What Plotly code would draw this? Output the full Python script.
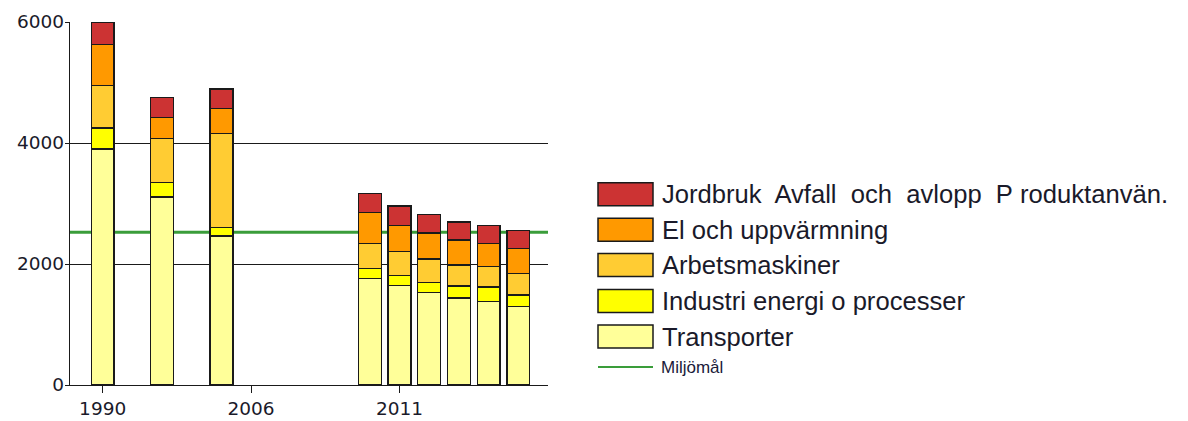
import plotly.graph_objects as go

# ---- data ----
years = ["1990", "2000", "2005", "2010", "2011", "2012", "2013", "2014", "2015"]
axis_slots = ["1990", "1995", "2000", "2004", "2005", "2006", "2007", "2008", "2009",
              "2010", "2011", "2012", "2013", "2014", "2015"]
tick_years = ["1990", "2006", "2011"]

transporter = [3900, 3107, 2463, 1758, 1647, 1532, 1438, 1377, 1295]
industri = [350, 237, 137, 170, 160, 159, 198, 243, 193]
arbetsmaskiner = [700, 733, 1560, 414, 397, 392, 347, 336, 352]
el_uppvarmning = [680, 347, 407, 507, 430, 429, 414, 380, 413]
jordbruk = [365, 325, 326, 319, 325, 309, 297, 298, 298]
miljomal = 2525

series_names = ["Transporter", "Industri energi o processer", "Arbetsmaskiner",
                "El och uppvärmning",
                "Jordbruk\u00a0 Avfall\u00a0 och\u00a0 avlopp\u00a0 P\u00a0roduktanvän."]
series_values = [transporter, industri, arbetsmaskiner, el_uppvarmning, jordbruk]
series_colors = ["#FFFF99", "#FFFF00", "#FFCC33", "#FF9900", "#CC3333"]
goal_name = "Miljömål"
goal_color = "#3a9d3a"

# ---- layout geometry (pixels) ----
# the page body has an 8px margin, so the figure starts at (8, 8) in the window
OFF = 8
W, H = 1172, 413
ML, MT = 70 - OFF, 22 - OFF
PW, PH = 478, 363
MR = W - ML - PW
MB = H - MT - PH


def px_x(px):
    return (px - OFF - ML) / PW


def px_y(py):
    return (MT + PH - (py - OFF)) / PH


fig = go.Figure()
for name, vals, col in zip(series_names, series_values, series_colors):
    fig.add_trace(go.Bar(
        x=years, y=vals, name=name, width=0.77,
        marker=dict(color=col, line=dict(color="#1a1a1a", width=1.3)),
        showlegend=False,
    ))

shapes = [dict(type="line", xref="paper", yref="y", x0=0, x1=1,
               y0=miljomal, y1=miljomal, layer="below",
               line=dict(color=goal_color, width=3))]
annotations = []

text_font = dict(family="Liberation Sans, Arial, sans-serif", size=25.6, color="#1a1a2a")
row_centers = [336.5, 301, 265, 229.8, 194.3]  # bottom-to-top order of series
for name, col, cy in zip(series_names, series_colors, row_centers):
    shapes.append(dict(type="rect", xref="paper", yref="paper",
                       x0=px_x(598), x1=px_x(653), y0=px_y(cy + 11.5), y1=px_y(cy - 11.5),
                       fillcolor=col, line=dict(color="#1a1a1a", width=1.5)))
    annotations.append(dict(xref="paper", yref="paper", x=px_x(660), y=px_y(cy),
                            xanchor="left", yanchor="middle", text=name,
                            showarrow=False, font=text_font))

goal_y = 367
shapes.append(dict(type="line", xref="paper", yref="paper",
                   x0=px_x(598), x1=px_x(653), y0=px_y(goal_y), y1=px_y(goal_y),
                   line=dict(color=goal_color, width=2)))
annotations.append(dict(xref="paper", yref="paper", x=px_x(659), y=px_y(goal_y),
                        xanchor="left", yanchor="middle", text=goal_name,
                        showarrow=False,
                        font=dict(family="Liberation Sans, Arial, sans-serif", size=17,
                                  color="#1a1a3a")))

fig.update_layout(
    width=W, height=H,
    margin=dict(l=ML, r=MR, t=MT, b=MB, pad=0, autoexpand=False),
    barmode="stack",
    paper_bgcolor="white", plot_bgcolor="white",
    shapes=shapes, annotations=annotations,
    showlegend=False,
    xaxis=dict(type="category", categoryorder="array", categoryarray=axis_slots,
               range=[-1.1, 15.0], tickmode="array", tickvals=tick_years,
               ticktext=tick_years, ticks="outside", ticklen=7, tickcolor="#1a1a1a",
               showline=True, linecolor="#1a1a1a", linewidth=1.3, showgrid=False,
               automargin=False,
               tickfont=dict(family="DejaVu Sans, sans-serif", size=18.5, color="#1a1a2a")),
    yaxis=dict(range=[0, 6000], tickvals=[0, 2000, 4000, 6000],
               ticks="outside", ticklen=4, tickcolor="#1a1a1a", ticklabelstandoff=-3,
               showline=True, linecolor="#1a1a1a", linewidth=1.3, automargin=False,
               showgrid=True, gridcolor="#1a1a1a", gridwidth=1.2, zeroline=False,
               tickfont=dict(family="DejaVu Sans, sans-serif", size=18.5, color="#1a1a2a")),
)

fig.write_html("out.html")
